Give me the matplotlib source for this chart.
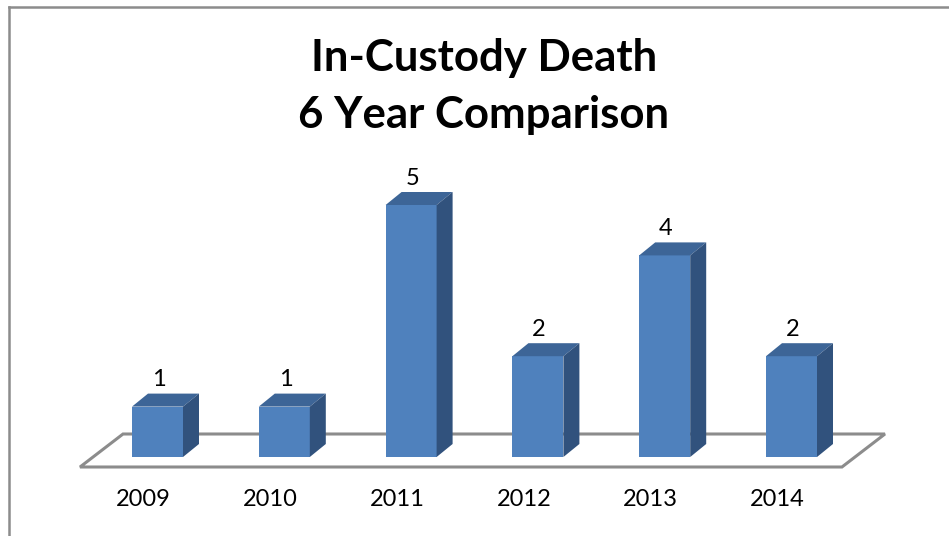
import matplotlib
matplotlib.use("Agg")
import matplotlib.pyplot as plt
from matplotlib.patches import Polygon
from matplotlib.lines import Line2D

years = ["2009", "2010", "2011", "2012", "2013", "2014"]
deaths = [1, 1, 5, 2, 4, 2]
title_lines = ["In-Custody Death", "6 Year Comparison"]

W, H, DPI = 949, 536, 100
fig = plt.figure(figsize=(W / DPI, H / DPI), dpi=DPI)
ax = fig.add_axes([0, 0, 1, 1])
ax.set_axis_off()

# pixel geometry -> data units
x0_px, xunit = 157.5, 126.8
y0_px, yunit = 79, 50.4
ax.set_xlim(-x0_px / xunit, (W - x0_px) / xunit)
ax.set_ylim(-y0_px / yunit, (H - y0_px) / yunit)

bw = 51 / xunit
ddx = 16 / xunit
ddy = 13 / yunit

front_c = "#4F81BD"
top_c = "#3D6597"
side_c = "#31527D"
floor_c = "#8C8C8C"

n = len(years)
# floor
fl = -10 / yunit
bl = 23 / yunit
floor = Polygon([(-0.611, fl), (n - 1 + 0.398, fl), (n - 1 + 0.737, bl), (-0.272, bl)],
                closed=True, facecolor="white", edgecolor=floor_c, lw=2.2, zorder=1)
ax.add_patch(floor)

xs = list(range(n))
ax.bar(xs, deaths, width=bw, color=front_c, edgecolor="none", zorder=3)
for x, v in zip(xs, deaths):
    l, r = x - bw / 2, x + bw / 2
    ax.add_patch(Polygon([(l, v), (r, v), (r + ddx, v + ddy), (l + ddx, v + ddy)],
                         facecolor=top_c, edgecolor="none", zorder=3))
    ax.add_patch(Polygon([(r, 0), (r + ddx, ddy), (r + ddx, v + ddy), (r, v)],
                         facecolor=side_c, edgecolor="none", zorder=3))
    ax.text(x + 0.01, v + ddy + 14 / yunit, str(v), ha="center", va="center",
            fontsize=17, family="Lato", color="black", zorder=4)
    ax.text(x - 14 / xunit, -43 / yunit, years[x], ha="center", va="center",
            fontsize=17, family="Lato", color="black", zorder=4)

fig.text(484 / W, 1 - 58 / H, title_lines[0], ha="center", va="center",
         fontsize=31.5, fontweight="bold", family="Lato")
fig.text(484 / W, 1 - 115 / H, title_lines[1], ha="center", va="center",
         fontsize=31.5, fontweight="bold", family="Lato")

# chart border (left and top visible)
fig.add_artist(Line2D([8.5 / W, 8.5 / W], [0, 1 - 6.5 / H], transform=fig.transFigure,
                      color="#8C8C8C", lw=1.8))
fig.add_artist(Line2D([8.5 / W, 1], [1 - 6.5 / H, 1 - 6.5 / H], transform=fig.transFigure,
                      color="#8C8C8C", lw=1.8))

fig.savefig("out.png", dpi=DPI)
